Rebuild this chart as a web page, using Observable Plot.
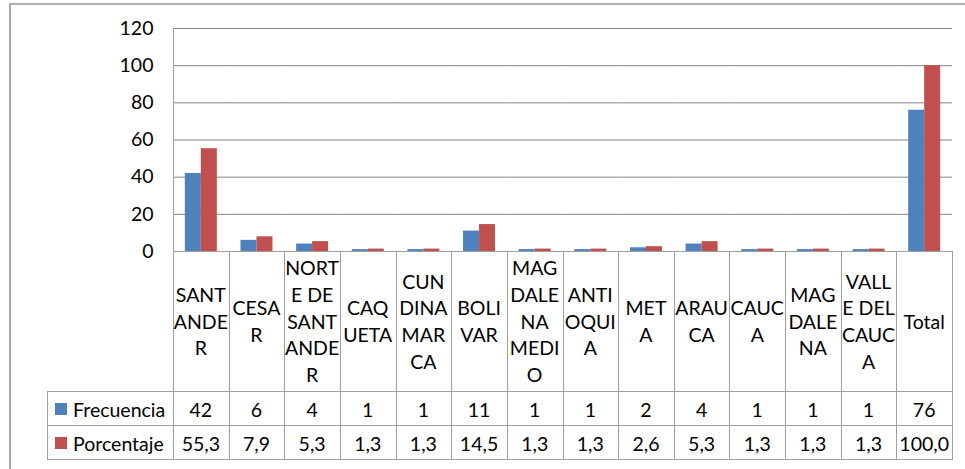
<!DOCTYPE html>
<html>
<head>
<meta charset="utf-8">
<script src="https://cdn.jsdelivr.net/npm/d3@7"></script>
<script src="https://cdn.jsdelivr.net/npm/@observablehq/plot@0.6"></script>
<style>
  html, body { margin: 0; padding: 0; background: #fff; overflow: hidden; }
  #wrap { position: relative; width: 965px; height: 469px; font-family: Lato, "Open Sans", sans-serif; color: #000; }
  #frame { position: absolute; left: 9px; top: 3px; width: 980px; height: 490px; border-left: 2px solid #a6a6a6; border-top: 2px solid #b0b0b0; box-sizing: border-box; }
  #chart { position: absolute; left: 0; top: 0; }
  .ln { position: absolute; background: #a0a0a0; }
  .cell { position: absolute; display: flex; align-items: center; justify-content: center; text-align: center; font-size: 19.5px; white-space: pre; }
  .lab { line-height: 26.7px; }
  .legend { justify-content: flex-start; }
  .sw { display: inline-block; width: 12px; height: 12px; margin-left: 8px; margin-right: 6px; }
</style>
</head>
<body>
<div id="wrap"><div id="frame"></div><div id="chart"></div></div>
<script>
const categories = ["SANTANDER","CESAR","NORTE DE SANTANDER","CAQUETA","CUNDINAMARCA","BOLIVAR","MAGDALENA MEDIO","ANTIOQUIA","META","ARAUCA","CAUCA","MAGDALENA","VALLE DEL CAUCA","Total"];
const categoryLabels = ["SANT\nANDE\nR","CESA\nR","NORT\nE DE\nSANT\nANDE\nR","CAQ\nUETA","CUN\nDINA\nMAR\nCA","BOLI\nVAR","MAG\nDALE\nNA\nMEDI\nO","ANTI\nOQUI\nA","MET\nA","ARAU\nCA","CAUC\nA","MAG\nDALE\nNA","VALL\nE DEL\nCAUC\nA","Total"];
const frecuencia = [42,6,4,1,1,11,1,1,2,4,1,1,1,76];
const porcentaje = [55.3,7.9,5.3,1.3,1.3,14.5,1.3,1.3,2.6,5.3,1.3,1.3,1.3,100.0];
const seriesNames = ["Frecuencia","Porcentaje"];
const seriesColors = ["#4F81BD","#C0504D"];
const yTicks = [0,20,40,60,80,100,120];

const rows = categories.flatMap((c, i) => [
  {cat: c, series: seriesNames[0], value: frecuencia[i]},
  {cat: c, series: seriesNames[1], value: porcentaje[i]}
]);

const W = 965, mL = 173, mR = 13, mT = 28, zeroY = 251;
const plot = Plot.plot({
  width: W, height: zeroY + 1,
  marginLeft: mL, marginRight: mR, marginTop: mT, marginBottom: 1,
  style: {fontFamily: "Lato, 'Open Sans', sans-serif", fontSize: "19.5px", color: "#000", background: "transparent", overflow: "visible"},
  facet: {data: rows, x: "cat"},
  fx: {domain: categories, padding: 0, round: false, axis: null},
  x: {domain: seriesNames, paddingInner: 0, paddingOuter: 0.74, round: false, axis: null},
  y: {domain: [0, 120], ticks: yTicks, tickSize: 0, tickPadding: 20, label: null, tickFormat: d => String(d)},
  color: {domain: seriesNames, range: seriesColors},
  marks: [
    Plot.ruleY(yTicks, {stroke: "#868686", strokeWidth: 1}),
    Plot.barY(rows, {x: "series", y: "value", fill: "series"})
  ]
});
document.getElementById("chart").appendChild(plot);

// Data table below the chart, aligned with the fx band scale
let fx;
try { fx = plot.scale("fx"); } catch (e) { fx = null; }
const bw = fx && fx.bandwidth ? fx.bandwidth : (W - mL - mR) / categories.length;
const colLeft = (c, i) => (fx && fx.apply ? fx.apply(c) : mL + i * bw);
const wrap = document.getElementById("wrap");
const labelRowH = 140, rowH = 34, legendLeft = 47;
const tableRight = colLeft(categories[categories.length - 1], categories.length - 1) + bw;
const bottom = zeroY + labelRowH + 2 * rowH;

function line(x, y, w, h) {
  const d = document.createElement("div");
  d.className = "ln";
  Object.assign(d.style, {left: x + "px", top: y + "px", width: w + "px", height: h + "px"});
  wrap.appendChild(d);
}
function cell(x, y, w, h, text, cls) {
  const d = document.createElement("div");
  d.className = "cell " + (cls || "");
  Object.assign(d.style, {left: x + "px", top: y + "px", width: w + "px", height: h + "px"});
  if (typeof text === "string") d.textContent = text; else d.appendChild(text);
  wrap.appendChild(d);
  return d;
}

// axis line + column borders
line(mL, mT, 1, bottom - mT);
categories.forEach((c, i) => line(colLeft(c, i) + bw, zeroY, 1, bottom - zeroY));
// horizontal borders
line(mL, zeroY, tableRight - mL + 1, 1);
[zeroY + labelRowH, zeroY + labelRowH + rowH, bottom].forEach(y => line(legendLeft, y, tableRight - legendLeft + 1, 1));
line(legendLeft, zeroY + labelRowH, 1, 2 * rowH);

const fmt = v => v.toFixed(1).replace(".", ",");
categories.forEach((c, i) => {
  const x = colLeft(c, i);
  cell(x, zeroY + 1, bw, labelRowH, categoryLabels[i], "lab");
  cell(x, zeroY + labelRowH + 1, bw, rowH, String(frecuencia[i]));
  cell(x, zeroY + labelRowH + rowH + 1, bw, rowH, fmt(porcentaje[i]));
});
seriesNames.forEach((s, k) => {
  const frag = document.createElement("span");
  frag.style.display = "flex"; frag.style.alignItems = "center";
  const sw = document.createElement("span");
  sw.className = "sw"; sw.style.background = seriesColors[k];
  frag.appendChild(sw);
  frag.appendChild(document.createTextNode(s));
  cell(legendLeft, zeroY + labelRowH + k * rowH + 1, mL - legendLeft, rowH, frag, "legend");
});
</script>
</body>
</html>
